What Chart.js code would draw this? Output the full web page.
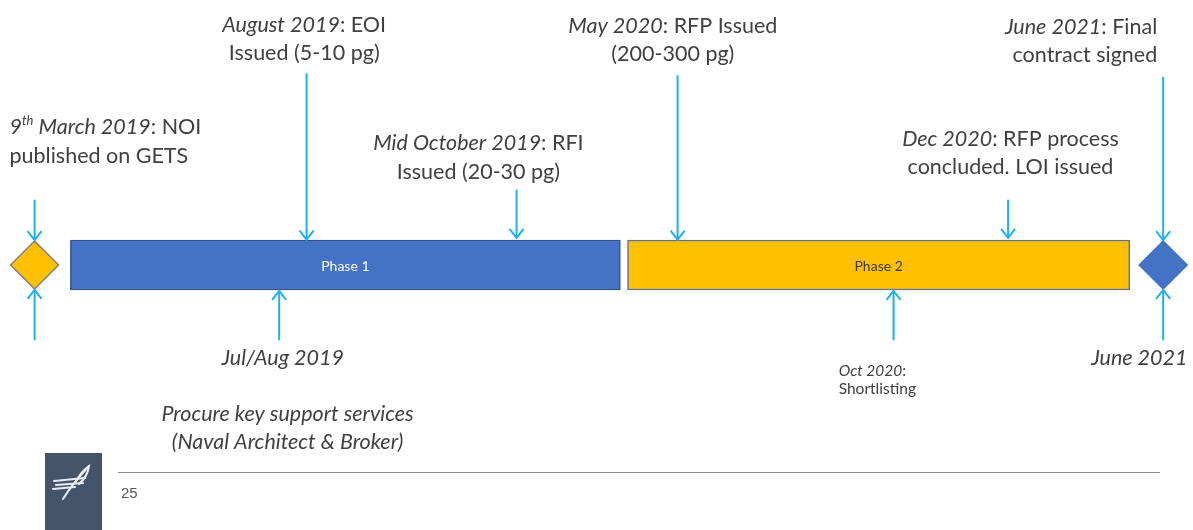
<!DOCTYPE html>
<html>
<head>
<meta charset="utf-8">
<script src="https://cdn.jsdelivr.net/npm/chart.js@4.4.0/dist/chart.umd.min.js"></script>
<style>
  html, body { margin: 0; padding: 0; background: #fff; }
  #wrap { position: relative; width: 1193px; height: 530px; overflow: hidden; }
  #timeline { position: absolute; left: 0; top: 0; }
  .logo { position: absolute; left: 45px; top: 453px; width: 57px; height: 77px; background: #44546A; }
  .rule { position: absolute; left: 118px; top: 472px; width: 1042px; border-top: 1.5px solid #8c8c8c; }
  .page { position: absolute; left: 121px; top: 484px; font: 15px "Liberation Sans", Arial, sans-serif; color: #595959; }
</style>
</head>
<body>
<div id="wrap">
  <canvas id="timeline" width="1193" height="530"></canvas>
  <div class="logo">
    <svg width="57" height="77" viewBox="0 0 57 77">
      <g stroke="#e8ecf2" stroke-width="2" fill="none" stroke-linecap="round">
        <path d="M18 46 C 24 36, 32 26, 44 13"/>
        <path d="M30 30 C 34 22, 38 17, 44 13 C 43 20, 40 26, 34 31"/>
        <path d="M9 28 L 40 25"/>
        <path d="M11 32 L 38 30"/>
        <path d="M8 36 L 30 34"/>
      </g>
    </svg>
  </div>
  <div class="rule"></div>
  <div class="page">25</div>
</div>
<script>
// timeline positions are in % of the slide width, levels in % of its height
const phases = ['Phase 1', 'Phase 2'];
const phaseStart = [5.9, 52.6];
const phaseEnd = [52.0, 94.7];
const phaseColors = ['#4472C4', '#FFC000'];
const phaseBorders = ['#2F528F', '#5F7290'];
const phaseTextColors = ['#FFFFFF', '#3A3A3A'];

const milestones = ['NOI published', 'Final contract signed'];
const milestonePos = [2.9, 97.5];
const milestoneColors = ['#FFC000', '#4472C4'];
const milestoneBorders = ['#7F7F7F', '#4472C4'];

const arrowEvents = ['NOI', 'EOI', 'RFI', 'RFP', 'LOI', 'Contract', 'NOI below', 'Support services', 'Shortlisting', 'Contract below'];
const arrowPos = [2.9, 25.7, 43.3, 56.8, 84.5, 97.5, 2.9, 23.4, 74.9, 97.5];
const arrowFrom = [37.7, 13.8, 35.8, 14.2, 37.7, 14.5, 64.2, 64.2, 64.2, 64.2];
const arrowTo = [45.3, 45.2, 44.9, 45.2, 44.9, 45.3, 54.7, 54.9, 54.9, 54.7];

// *italic*  ^superscript^
const labelLines = [
  ['*9^th^ March 2019*: NOI', 'published on GETS'],
  ['*August 2019*: EOI', 'Issued (5-10 pg)'],
  ['*Mid October 2019*: RFI', 'Issued (20-30 pg)'],
  ['*May 2020*: RFP Issued', '(200-300 pg)'],
  ['*Dec 2020*: RFP process', 'concluded. LOI issued'],
  ['*June 2021*: Final', 'contract signed'],
  ['*Jul/Aug 2019*'],
  ['*Procure key support services*', '*(Naval Architect & Broker)*'],
  ['*Oct 2020*:', 'Shortlisting'],
  ['*June 2021*']
];
const labelX = [0.8, 25.5, 40.1, 56.4, 84.7, 97.0, 23.7, 24.1, 70.3, 95.5];
const labelY = [24.0, 4.7, 27.0, 4.9, 26.2, 5.1, 67.5, 78.1, 70.0, 67.5];
const labelAlign = ['left', 'center', 'center', 'center', 'center', 'right', 'center', 'center', 'left', 'center'];
const labelSize = [21.5, 21.5, 21.5, 21.5, 21.5, 21.5, 21.5, 21.5, 15.5, 21.5];

const FONT = 'Lato, "Open Sans", sans-serif';
const ARROW = '#1FB0EE';

function parseRich(str) {
  const segs = [];
  let italic = false, sup = false, cur = '';
  const push = () => { if (cur) segs.push({ t: cur, italic, sup }); cur = ''; };
  for (const ch of str) {
    if (ch === '*') { push(); italic = !italic; }
    else if (ch === '^') { push(); sup = !sup; }
    else cur += ch;
  }
  push();
  return segs;
}

function segFont(seg, size) {
  const s = seg.sup ? Math.round(size * 0.62) : size;
  return (seg.italic ? 'italic ' : '') + s + 'px ' + FONT;
}

const arrowHeads = {
  id: 'arrowHeads',
  afterDatasetsDraw(chart) {
    const ctx = chart.ctx;
    chart.data.datasets.forEach((ds, i) => {
      if (!ds.arrow) return;
      const pts = chart.getDatasetMeta(i).data;
      const a = pts[0], b = pts[1];
      const dir = Math.sign(b.y - a.y);
      ctx.save();
      ctx.strokeStyle = ds.borderColor;
      ctx.lineWidth = 2;
      ctx.beginPath();
      ctx.moveTo(b.x - 7, b.y - dir * 9);
      ctx.lineTo(b.x, b.y);
      ctx.lineTo(b.x + 7, b.y - dir * 9);
      ctx.stroke();
      ctx.restore();
    });
  }
};

const slideText = {
  id: 'slideText',
  afterDraw(chart) {
    const ctx = chart.ctx;
    const xs = chart.scales.x, ys = chart.scales.y;
    ctx.save();
    ctx.textBaseline = 'middle';

    // phase names inside bars
    const bars = chart.getDatasetMeta(0).data;
    bars.forEach((el, i) => {
      ctx.font = '14px ' + FONT;
      ctx.fillStyle = phaseTextColors[i];
      ctx.textAlign = 'center';
      ctx.fillText(phases[i], (el.x + el.base) / 2, el.y + 1);
    });

    ctx.textAlign = 'left';
    labelLines.forEach((lines, i) => {
      const size = labelSize[i];
      const lh = size > 20 ? 28.5 : 18;
      const ax = xs.getPixelForValue(labelX[i]);
      let y = ys.getPixelForValue(labelY[i]);
      lines.forEach(line => {
        const segs = parseRich(line);
        let w = 0;
        segs.forEach(s => { ctx.font = segFont(s, size); s.w = ctx.measureText(s.t).width; w += s.w; });
        let x = labelAlign[i] === 'left' ? ax : labelAlign[i] === 'right' ? ax - w : ax - w / 2;
        segs.forEach(s => {
          ctx.font = segFont(s, size);
          ctx.fillStyle = '#404040';
          ctx.fillText(s.t, x, s.sup ? y - size * 0.3 : y);
          x += s.w;
        });
        y += lh;
      });
    });
    ctx.restore();
  }
};

const datasets = [
  {
    type: 'bar',
    indexAxis: 'y',
    label: 'Phases',
    data: phases.map((p, i) => ({ x: [phaseStart[i], phaseEnd[i]], y: 50 })),
    backgroundColor: phaseColors,
    borderColor: phaseBorders,
    borderWidth: 1.5,
    borderSkipped: false,
    barThickness: 50
  },
  {
    type: 'scatter',
    label: 'Milestones',
    data: milestonePos.map(x => ({ x: x, y: 50 })),
    pointStyle: 'rectRot',
    pointRadius: 24,
    backgroundColor: milestoneColors,
    borderColor: milestoneBorders,
    borderWidth: 1.5
  }
];

arrowEvents.forEach((name, i) => {
  datasets.push({
    type: 'line',
    label: name,
    arrow: true,
    data: [{ x: arrowPos[i], y: arrowFrom[i] }, { x: arrowPos[i], y: arrowTo[i] }],
    borderColor: ARROW,
    borderWidth: 2,
    pointRadius: 0
  });
});

new Chart(document.getElementById('timeline'), {
  type: 'scatter',
  data: { datasets },
  options: {
    responsive: false,
    animation: false,
    devicePixelRatio: 1,
    events: [],
    layout: { padding: 0, autoPadding: false },
    plugins: { legend: { display: false }, tooltip: { enabled: false } },
    scales: {
      x: { type: 'linear', min: 0, max: 100, offset: false, display: false },
      y: { type: 'linear', min: 0, max: 100, offset: false, reverse: true, display: false }
    }
  },
  plugins: [arrowHeads, slideText]
});
</script>
</body>
</html>
